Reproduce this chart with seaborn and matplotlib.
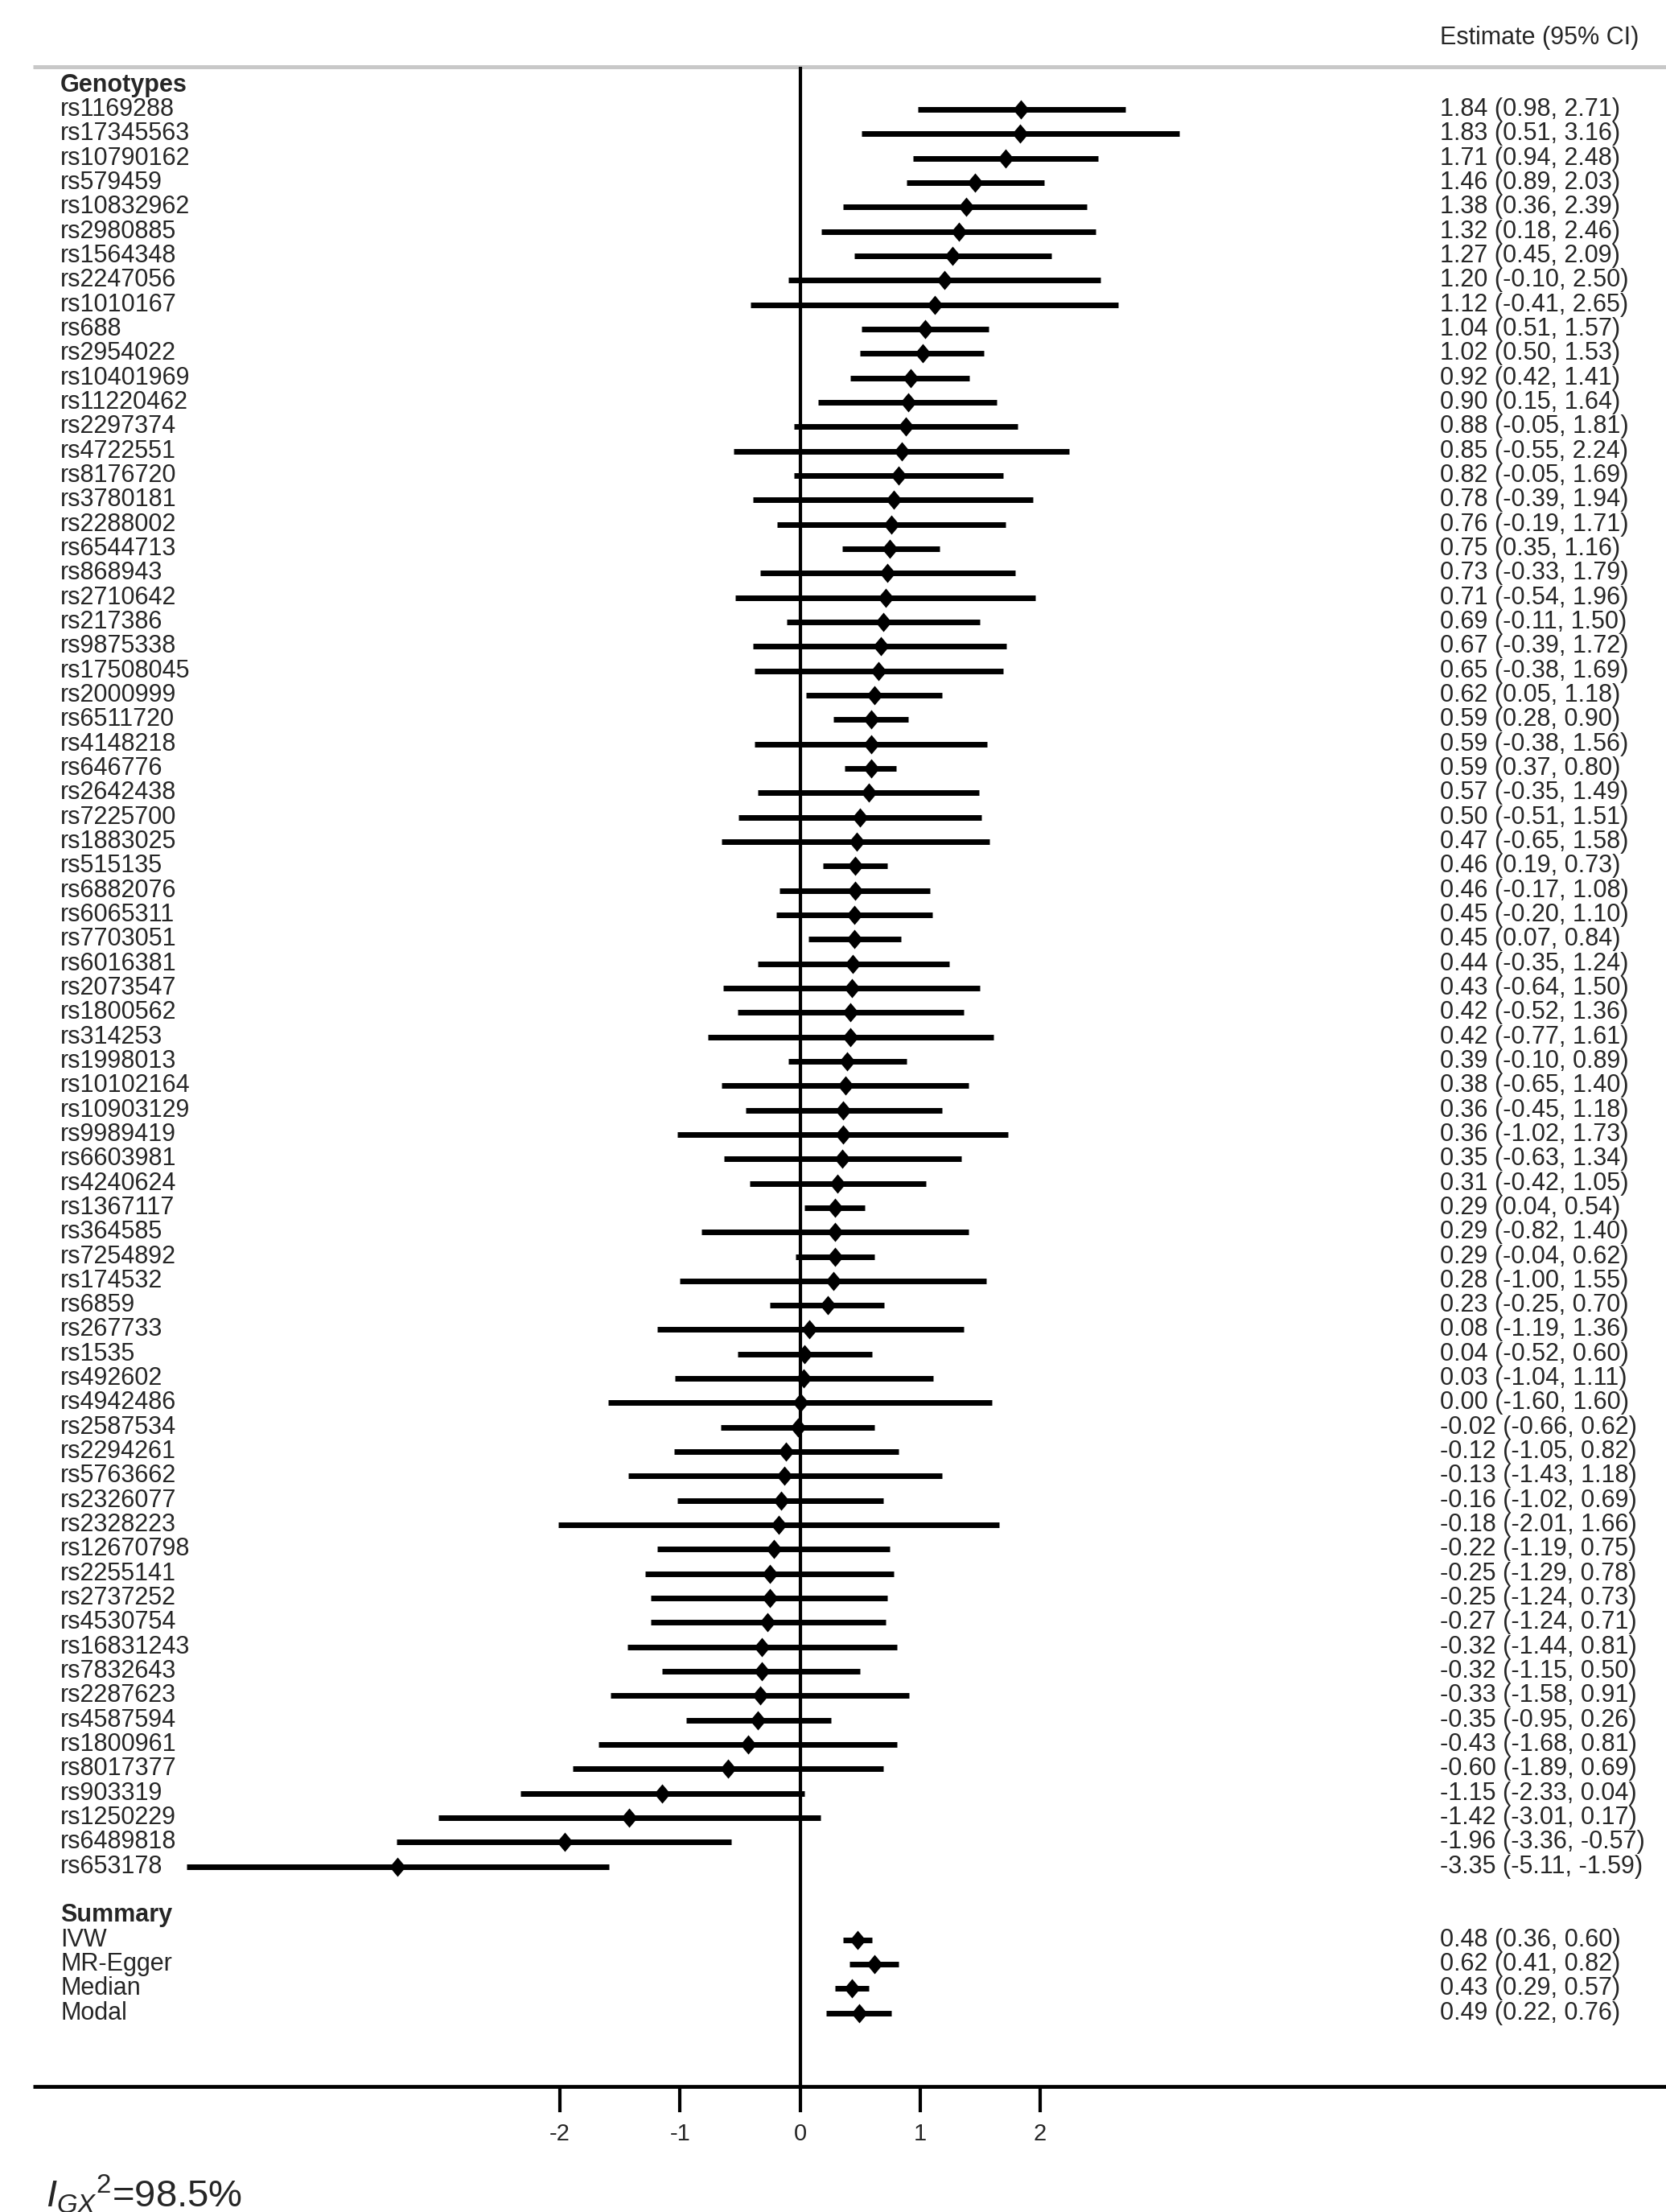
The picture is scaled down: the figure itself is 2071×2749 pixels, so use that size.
import numpy as np
import pandas as pd
import seaborn as sns
from matplotlib import pyplot as plt

snps = [
    "rs1169288", "rs17345563", "rs10790162", "rs579459", "rs10832962", "rs2980885",
    "rs1564348", "rs2247056", "rs1010167", "rs688", "rs2954022", "rs10401969",
    "rs11220462", "rs2297374", "rs4722551", "rs8176720", "rs3780181", "rs2288002",
    "rs6544713", "rs868943", "rs2710642", "rs217386", "rs9875338", "rs17508045",
    "rs2000999", "rs6511720", "rs4148218", "rs646776", "rs2642438", "rs7225700",
    "rs1883025", "rs515135", "rs6882076", "rs6065311", "rs7703051", "rs6016381",
    "rs2073547", "rs1800562", "rs314253", "rs1998013", "rs10102164", "rs10903129",
    "rs9989419", "rs6603981", "rs4240624", "rs1367117", "rs364585", "rs7254892",
    "rs174532", "rs6859", "rs267733", "rs1535", "rs492602", "rs4942486",
    "rs2587534", "rs2294261", "rs5763662", "rs2326077", "rs2328223", "rs12670798",
    "rs2255141", "rs2737252", "rs4530754", "rs16831243", "rs7832643", "rs2287623",
    "rs4587594", "rs1800961", "rs8017377", "rs903319", "rs1250229", "rs6489818",
    "rs653178",
]
snp_est = [
    1.84, 1.83, 1.71, 1.46, 1.38, 1.32, 1.27, 1.20, 1.12, 1.04, 1.02, 0.92,
    0.90, 0.88, 0.85, 0.82, 0.78, 0.76, 0.75, 0.73, 0.71, 0.69, 0.67, 0.65,
    0.62, 0.59, 0.59, 0.59, 0.57, 0.50, 0.47, 0.46, 0.46, 0.45, 0.45, 0.44,
    0.43, 0.42, 0.42, 0.39, 0.38, 0.36, 0.36, 0.35, 0.31, 0.29, 0.29, 0.29,
    0.28, 0.23, 0.08, 0.04, 0.03, 0.00, -0.02, -0.12, -0.13, -0.16, -0.18, -0.22,
    -0.25, -0.25, -0.27, -0.32, -0.32, -0.33, -0.35, -0.43, -0.60, -1.15, -1.42, -1.96,
    -3.35,
]
snp_lo = [
    0.98, 0.51, 0.94, 0.89, 0.36, 0.18, 0.45, -0.10, -0.41, 0.51, 0.50, 0.42,
    0.15, -0.05, -0.55, -0.05, -0.39, -0.19, 0.35, -0.33, -0.54, -0.11, -0.39, -0.38,
    0.05, 0.28, -0.38, 0.37, -0.35, -0.51, -0.65, 0.19, -0.17, -0.20, 0.07, -0.35,
    -0.64, -0.52, -0.77, -0.10, -0.65, -0.45, -1.02, -0.63, -0.42, 0.04, -0.82, -0.04,
    -1.00, -0.25, -1.19, -0.52, -1.04, -1.60, -0.66, -1.05, -1.43, -1.02, -2.01, -1.19,
    -1.29, -1.24, -1.24, -1.44, -1.15, -1.58, -0.95, -1.68, -1.89, -2.33, -3.01, -3.36,
    -5.11,
]
snp_hi = [
    2.71, 3.16, 2.48, 2.03, 2.39, 2.46, 2.09, 2.50, 2.65, 1.57, 1.53, 1.41,
    1.64, 1.81, 2.24, 1.69, 1.94, 1.71, 1.16, 1.79, 1.96, 1.50, 1.72, 1.69,
    1.18, 0.90, 1.56, 0.80, 1.49, 1.51, 1.58, 0.73, 1.08, 1.10, 0.84, 1.24,
    1.50, 1.36, 1.61, 0.89, 1.40, 1.18, 1.73, 1.34, 1.05, 0.54, 1.40, 0.62,
    1.55, 0.70, 1.36, 0.60, 1.11, 1.60, 0.62, 0.82, 1.18, 0.69, 1.66, 0.75,
    0.78, 0.73, 0.71, 0.81, 0.50, 0.91, 0.26, 0.81, 0.69, 0.04, 0.17, -0.57,
    -1.59,
]

methods = ["IVW", "MR-Egger", "Median", "Modal"]
method_est = [0.48, 0.62, 0.43, 0.49]
method_lo = [0.36, 0.41, 0.29, 0.22]
method_hi = [0.60, 0.82, 0.57, 0.76]

x_ticks = [-2, -1, 0, 1, 2]
i2_text = r"$I_{GX}$$^{2}$=98.5%"

# rows: Genotypes header, 73 SNPs, blank, Summary header, 4 methods
snp_rows = list(range(len(snps)))
method_rows = [len(snps) + 2 + k for k in range(len(methods))]

df = pd.DataFrame({
    "label": snps + methods,
    "est": snp_est + method_est,
    "lo": snp_lo + method_lo,
    "hi": snp_hi + method_hi,
    "row": snp_rows + method_rows,
})

sns.set_theme(style="white")
plt.rcParams["font.family"] = ["Liberation Sans", "DejaVu Sans"]
plt.rcParams["mathtext.fontset"] = "custom"
plt.rcParams["mathtext.rm"] = "Liberation Sans"
plt.rcParams["mathtext.it"] = "Liberation Sans:italic"

W, H = 2071, 2749
fig = plt.figure(figsize=(W / 100, H / 100), dpi=100)
ax = fig.add_axes([0, 0, 1, 1])

# pixel -> data mapping
x0_px, unit_px = 994.5, 149.3
row0_px, pitch_px = 136.0, 30.33
ax.set_xlim(-x0_px / unit_px, (W - x0_px) / unit_px)
ax.set_ylim((H - row0_px) / pitch_px, -row0_px / pitch_px)
ax.axis("off")

def px_x(p):
    return (p - x0_px) / unit_px

def px_y(p):
    return (p - row0_px) / pitch_px

top_line = px_y(83)
axis_line = px_y(2593)

# header line and zero reference
ax.plot([px_x(41), px_x(W)], [top_line, top_line], color="#c8c8c8", lw=3.6,
        solid_capstyle="butt")
ax.plot([0, 0], [top_line, axis_line], color="black", lw=3.0, solid_capstyle="butt")

# CI bars and diamonds
ax.hlines(df["row"], df["lo"], df["hi"], color="black", lw=5.0, capstyle="butt", zorder=2)
diamond = [(-0.42, 0), (0, 0.5), (0.42, 0), (0, -0.5), (-0.42, 0)]
sns.scatterplot(data=df, x="est", y="row", marker=diamond, s=300, color="black",
                linewidth=0, ax=ax, zorder=3, legend=False)
ax.set_xlabel("")
ax.set_ylabel("")

# labels
lab_x = px_x(75)
est_x = px_x(1790)
fs = 22
ax.text(lab_x, -1, "Genotypes", fontsize=fs, fontweight="bold", va="center", ha="left")
ax.text(lab_x, len(snps) + 1, "Summary", fontsize=fs, fontweight="bold", va="center", ha="left")
for _, r in df.iterrows():
    ax.text(lab_x, r["row"], r["label"], fontsize=fs, va="center", ha="left")
    ax.text(est_x, r["row"], f"{r['est']:.2f} ({r['lo']:.2f}, {r['hi']:.2f})",
            fontsize=fs, va="center", ha="left")
ax.text(est_x, px_y(47), "Estimate (95% CI)", fontsize=fs, va="center", ha="left")

# bottom axis
ax.plot([px_x(41), px_x(W)], [axis_line, axis_line], color="black", lw=3.4,
        solid_capstyle="butt")
tick_end = px_y(2625)
for t in x_ticks:
    ax.plot([t, t], [axis_line, tick_end], color="black", lw=3.0, solid_capstyle="butt")
    ax.text(t, px_y(2652), f"{t}", fontsize=21, ha="center", va="center")

ax.text(px_x(57), px_y(2743), i2_text, fontsize=34, ha="left", va="baseline")

fig.savefig("out.png", dpi=100, facecolor="white")
